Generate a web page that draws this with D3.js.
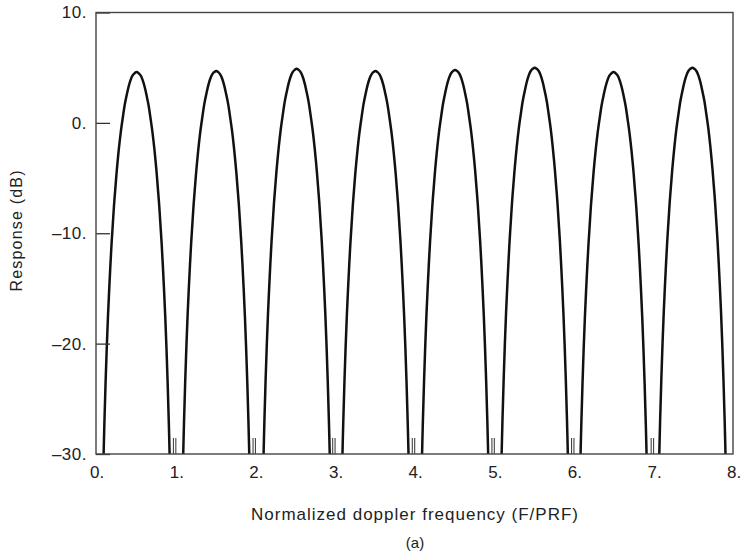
<!DOCTYPE html>
<html>
<head>
<meta charset="utf-8">
<script src="https://cdn.jsdelivr.net/npm/d3@7"></script>
<style>
  body { margin: 0; background: #fff; }
  text { font-family: "Liberation Sans", Arial, Helvetica, sans-serif; fill: #222; }
</style>
</head>
<body>
<div id="chart"></div>
<script>
// Chart size and plot frame
const width = 744;
const height = 556;
const margin = { top: 12.5, right: 11, bottom: 102, left: 96 };

// Axis ticks
const xTicks = [0, 1, 2, 3, 4, 5, 6, 7, 8];
const yTicks = [10, 0, -10, -20, -30];

// Lobe centres (F/PRF) and peak levels (dB)
const lobeCenters = [0.51, 1.51, 2.52, 3.51, 4.51, 5.51, 6.50, 7.49];
const lobePeaks = [4.6, 4.7, 4.9, 4.7, 4.8, 5.0, 4.6, 5.0];

// Shape of one lobe: offset from its centre, and level below its peak (dB)
const lobeOffsets = [-0.42, -0.405, -0.39, -0.375, -0.36, -0.345, -0.33, -0.315, -0.30, -0.285, -0.27,
  -0.25, -0.225, -0.20, -0.175, -0.15, -0.125, -0.10, -0.075, -0.05, -0.025, 0,
  0.025, 0.05, 0.075, 0.10, 0.125, 0.15, 0.175, 0.20, 0.225, 0.25,
  0.27, 0.285, 0.30, 0.315, 0.33, 0.345, 0.36, 0.375, 0.39, 0.405, 0.42];
const lobeDrop = [-36.3, -31.9, -28.2, -25.0, -22.2, -19.8, -17.6, -15.6, -13.9, -12.2, -10.8,
  -9.0, -7.1, -5.5, -4.2, -3.0, -2.1, -1.3, -0.7, -0.3, -0.1, 0,
  -0.1, -0.3, -0.7, -1.3, -2.1, -3.0, -4.2, -5.5, -7.1, -9.0,
  -10.8, -12.2, -13.9, -15.6, -17.6, -19.8, -22.2, -25.0, -28.2, -31.9, -36.3];

const innerW = width - margin.left - margin.right;
const innerH = height - margin.top - margin.bottom;

const svg = d3.select("#chart")
  .append("svg")
  .attr("width", width)
  .attr("height", height);

const g = svg.append("g")
  .attr("transform", `translate(${margin.left},${margin.top})`);

// Scales
const x = d3.scaleLinear().domain([0, 8]).range([0, innerW]);
const y = d3.scaleLinear().domain([-30, 10]).range([innerH, 0]);

// Clip the lobes at the plot frame
g.append("clipPath")
  .attr("id", "plot-clip")
  .append("rect")
  .attr("width", innerW)
  .attr("height", innerH);

// Build the points of each lobe
const lobes = lobeCenters.map((c, i) =>
  lobeOffsets.map((o, j) => ({ f: c + o, db: lobePeaks[i] + lobeDrop[j] }))
);

const line = d3.line()
  .x(d => x(d.f))
  .y(d => y(d.db))
  .curve(d3.curveCatmullRom);

g.append("g")
  .attr("clip-path", "url(#plot-clip)")
  .selectAll("path")
  .data(lobes)
  .enter()
  .append("path")
  .attr("d", line)
  .attr("fill", "none")
  .attr("stroke", "#111")
  .attr("stroke-width", 2.5)
  .attr("stroke-linejoin", "round");

// Y axis: ticks pointing into the plot
const yAxis = g.append("g")
  .call(d3.axisLeft(y)
    .tickValues(yTicks)
    .tickSize(-14)
    .tickSizeOuter(0)
    .tickPadding(9)
    .tickFormat(d => (d < 0 ? "\u2013" + Math.abs(d) : d) + "."));

yAxis.select(".domain").remove();
yAxis.selectAll(".tick line").attr("stroke", "#333").attr("stroke-width", 1.3);
yAxis.selectAll(".tick text")
  .attr("font-size", 17)
  .attr("letter-spacing", 0.5)
  .attr("fill", "#222");

// X axis: short doubled ticks at each integer
const xAxis = g.append("g")
  .attr("transform", `translate(0,${innerH})`)
  .call(d3.axisBottom(x)
    .tickValues(xTicks)
    .tickSize(-16)
    .tickSizeOuter(0)
    .tickPadding(12)
    .tickFormat(d => d + "."));

xAxis.select(".domain").remove();
xAxis.selectAll(".tick line")
  .attr("stroke", "#444")
  .attr("stroke-width", 1.1)
  .attr("transform", "translate(-0.3,0)")
  .filter(d => d === 0 || d === 8)
  .remove();
xAxis.selectAll(".tick")
  .filter(d => d !== 0 && d !== 8)
  .append("line")
  .attr("x1", -2.7).attr("x2", -2.7)
  .attr("y2", -16)
  .attr("stroke", "#444")
  .attr("stroke-width", 1.1);
xAxis.selectAll(".tick text")
  .attr("font-size", 17)
  .attr("dx", 0.7)
  .attr("fill", "#222");

// Plot frame
g.append("rect")
  .attr("width", innerW)
  .attr("height", innerH)
  .attr("fill", "none")
  .attr("stroke", "#444")
  .attr("stroke-width", 1.4);

// Axis titles
svg.append("text")
  .attr("x", margin.left + innerW / 2)
  .attr("y", 520)
  .attr("text-anchor", "middle")
  .attr("font-size", 17)
  .attr("textLength", 327)
  .attr("lengthAdjust", "spacing")
  .text("Normalized doppler frequency (F/PRF)");

svg.append("text")
  .attr("transform", "translate(22,231) rotate(-90)")
  .attr("text-anchor", "middle")
  .attr("font-size", 16)
  .attr("textLength", 121)
  .attr("lengthAdjust", "spacing")
  .text("Response (dB)");

svg.append("text")
  .attr("x", 415)
  .attr("y", 548)
  .attr("text-anchor", "middle")
  .attr("font-size", 15)
  .text("(a)");
</script>
</body>
</html>
